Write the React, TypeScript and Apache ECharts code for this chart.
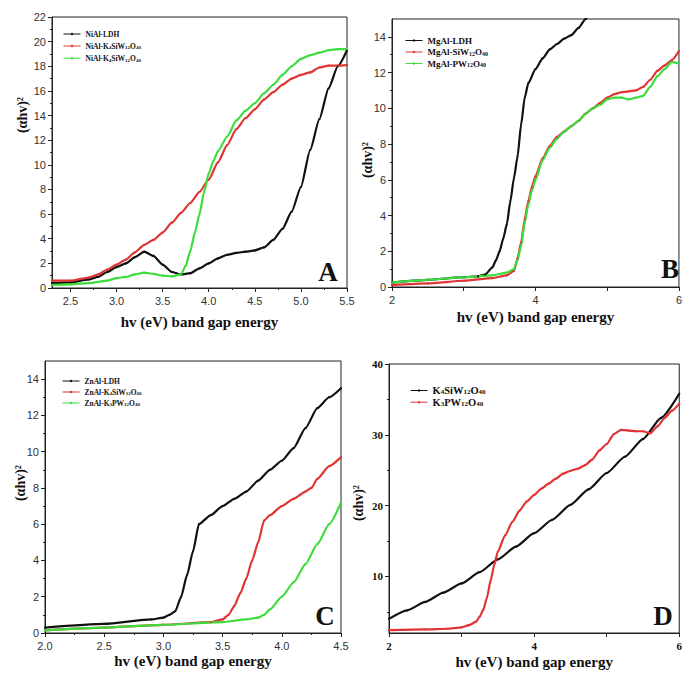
import React, { useEffect, useRef } from "react";
import * as echarts from "echarts";

// ---------- Panel A (NiAl) ----------
const niAlLdh = [[2.3,0.4],[2.5,0.45],[2.7,0.7],[2.8,0.9],[2.9,1.3],[3.0,1.7],[3.1,2.0],[3.2,2.5],[3.3,2.95],[3.4,2.6],[3.5,1.9],[3.6,1.3],[3.7,1.1],[3.8,1.2],[3.9,1.6],[4.0,2.0],[4.1,2.4],[4.2,2.7],[4.3,2.85],[4.4,2.95],[4.5,3.05],[4.6,3.3],[4.7,3.9],[4.8,4.8],[4.9,6.2],[5.0,8.2],[5.1,11.2],[5.2,13.7],[5.3,16.2],[5.4,18.0],[5.5,19.3]];
const niAlSiW = [[2.3,0.6],[2.5,0.6],[2.7,0.85],[2.8,1.1],[2.9,1.5],[3.0,1.9],[3.1,2.3],[3.2,2.9],[3.3,3.5],[3.4,3.9],[3.5,4.5],[3.6,5.3],[3.7,6.1],[3.8,6.9],[3.9,7.8],[4.0,8.8],[4.1,10.2],[4.2,11.6],[4.3,12.9],[4.4,13.8],[4.5,14.5],[4.6,15.3],[4.7,15.9],[4.8,16.5],[4.9,17.0],[5.0,17.3],[5.1,17.5],[5.2,17.9],[5.3,18.05],[5.4,18.05],[5.5,18.1]];
const niAlSiW2 = [[2.3,0.25],[2.5,0.3],[2.7,0.4],[2.9,0.6],[3.0,0.8],[3.1,0.9],[3.2,1.1],[3.3,1.25],[3.4,1.15],[3.5,1.0],[3.6,0.95],[3.7,1.1],[3.75,1.8],[3.8,3.0],[3.85,4.5],[3.9,6.0],[3.95,7.8],[4.0,9.3],[4.05,10.3],[4.1,11.1],[4.2,12.3],[4.3,13.6],[4.4,14.4],[4.5,15.0],[4.6,15.8],[4.7,16.5],[4.8,17.3],[4.9,18.0],[5.0,18.6],[5.1,18.9],[5.2,19.1],[5.3,19.3],[5.4,19.4],[5.5,19.4]];

// ---------- Panel B (MgAl) ----------
const mgAlLdh = [[2.0,0.25],[2.5,0.4],[3.0,0.55],[3.2,0.6],[3.3,0.7],[3.4,1.1],[3.45,1.5],[3.5,2.0],[3.55,2.7],[3.6,3.5],[3.65,4.8],[3.7,6.1],[3.75,7.3],[3.8,9.1],[3.85,10.6],[3.9,11.4],[4.0,12.2],[4.1,12.8],[4.2,13.3],[4.3,13.6],[4.4,13.9],[4.5,14.1],[4.6,14.5],[4.7,15.0],[4.8,15.8]];
const mgAlSiW = [[2.0,0.1],[2.5,0.2],[3.0,0.35],[3.4,0.5],[3.6,0.65],[3.7,0.9],[3.75,1.6],[3.8,2.5],[3.85,3.8],[3.9,4.8],[3.95,5.6],[4.0,6.2],[4.1,7.2],[4.2,7.9],[4.3,8.4],[4.4,8.7],[4.5,9.0],[4.6,9.3],[4.7,9.7],[4.8,10.0],[4.9,10.3],[5.0,10.6],[5.1,10.8],[5.2,10.9],[5.3,10.95],[5.4,11.0],[5.5,11.2],[5.6,11.6],[5.7,12.1],[5.8,12.4],[5.9,12.7],[6.0,13.2]];
const mgAlPW = [[2.0,0.25],[2.5,0.4],[3.0,0.55],[3.4,0.65],[3.6,0.8],[3.7,1.0],[3.75,1.5],[3.8,2.3],[3.85,3.6],[3.9,4.6],[3.95,5.4],[4.0,6.0],[4.1,7.1],[4.2,7.8],[4.3,8.3],[4.4,8.7],[4.5,9.0],[4.6,9.3],[4.7,9.7],[4.8,10.0],[4.9,10.2],[5.0,10.5],[5.1,10.6],[5.2,10.6],[5.3,10.5],[5.4,10.6],[5.5,10.7],[5.6,11.2],[5.7,11.8],[5.8,12.2],[5.9,12.6],[6.0,12.5]];

// ---------- Panel C (ZnAl) ----------
const znAlLdh = [[2.0,0.3],[2.5,0.5],[2.9,0.75],[3.0,0.85],[3.05,1.0],[3.1,1.2],[3.15,2.0],[3.2,3.2],[3.25,4.5],[3.3,6.0],[3.4,6.5],[3.5,7.0],[3.6,7.4],[3.7,7.8],[3.8,8.4],[3.9,9.0],[4.0,9.5],[4.1,10.2],[4.2,11.3],[4.3,12.4],[4.4,13.0],[4.5,13.5]];
const znAlSiW = [[2.0,0.15],[2.5,0.3],[3.0,0.45],[3.4,0.6],[3.5,0.75],[3.55,1.0],[3.6,1.5],[3.65,2.2],[3.7,3.0],[3.75,4.0],[3.8,5.0],[3.85,6.2],[3.9,6.5],[4.0,7.0],[4.1,7.4],[4.2,7.8],[4.25,8.0],[4.3,8.5],[4.4,9.2],[4.5,9.7]];
const znAlPW = [[2.0,0.15],[2.5,0.3],[3.0,0.45],[3.5,0.6],[3.7,0.75],[3.8,0.85],[3.85,1.0],[3.9,1.3],[4.0,2.0],[4.1,2.8],[4.2,3.8],[4.3,4.9],[4.4,6.0],[4.5,7.2]];

// ---------- Panel D (pure POMs) ----------
const kSiW = [[2.0,4.0],[2.25,5.2],[2.5,6.4],[2.75,7.7],[3.0,9.0],[3.25,10.6],[3.5,12.4],[3.75,14.2],[4.0,16.1],[4.25,18.0],[4.5,20.1],[4.75,22.3],[5.0,24.6],[5.25,26.9],[5.5,29.4],[5.75,32.4],[6.0,35.8]];
const kPW = [[2.0,2.4],[2.5,2.5],[2.8,2.6],[3.0,2.8],[3.1,3.1],[3.2,3.6],[3.25,4.3],[3.3,5.3],[3.35,7.0],[3.4,9.4],[3.45,11.6],[3.5,13.5],[3.6,15.8],[3.7,17.7],[3.8,19.3],[3.9,20.6],[4.0,21.5],[4.1,22.4],[4.2,23.1],[4.3,23.8],[4.4,24.5],[4.5,24.9],[4.6,25.2],[4.7,25.7],[4.8,26.5],[4.9,27.8],[5.0,28.7],[5.1,30.1],[5.2,30.7],[5.3,30.6],[5.4,30.5],[5.5,30.5],[5.6,30.2],[5.7,31.2],[5.8,32.4],[5.9,33.4],[6.0,34.4]];

// ---------- Tick values ----------
const aXMajor = [2.5, 3.0, 3.5, 4.0, 4.5, 5.0, 5.5];
const aXMinor = [2.75, 3.25, 3.75, 4.25, 4.75, 5.25];
const aYMajor = [0, 2, 4, 6, 8, 10, 12, 14, 16, 18, 20, 22];
const aYMinor = [1, 3, 5, 7, 9, 11, 13, 15, 17, 19, 21];
const bXMajor = [2, 3, 4, 5, 6];
const bXLabels = [2, 4, 6];
const bYMajor = [0, 2, 4, 6, 8, 10, 12, 14];
const bYMinor = [1, 3, 5, 7, 9, 11, 13];
const cXMajor = [2.0, 2.5, 3.0, 3.5, 4.0, 4.5];
const cXMinor = [2.25, 2.75, 3.25, 3.75, 4.25];
const cYMajor = [0, 2, 4, 6, 8, 10, 12, 14];
const cYMinor = [1, 3, 5, 7, 9, 11, 13];
const dXMajor = [2, 3, 4, 5, 6];
const dXLabels = [2, 4, 6];
const dYMajor = [10, 20, 30, 40];
const dYMinor = [5, 15, 25, 35];

const SANS = "Liberation Sans";
const SERIF = "Liberation Serif";
const BLACK = "#111111";
const RED = "#e03434";
const GREEN = "#3cdc3c";
const AXIS = "#222222";
const XTITLE = "hv (eV) band gap energy";
const YTITLE = "(αhv)²";

const sansLab = { fontFamily: SANS, fontSize: 11, color: "#333" };
const serifLab = { fontFamily: SERIF, fontSize: 11, fontWeight: "bold", color: "#111" };

function xPair(g: number, min: number, max: number, majors: number[], labels: number[], minors: number[], fmt: any, lab: any, nameGap: number) {
  return [
    {
      type: "value", gridIndex: g, min, max, position: "bottom",
      axisLine: { show: true, onZero: false, lineStyle: { color: AXIS, width: 1 } },
      axisTick: { show: true, inside: false, length: 4, customValues: majors, lineStyle: { color: AXIS } },
      axisLabel: { show: true, customValues: labels, formatter: fmt, margin: 7, ...lab },
      splitLine: { show: false },
      name: XTITLE, nameLocation: "middle", nameGap,
      nameTextStyle: { fontFamily: SERIF, fontWeight: "bold", fontSize: 15, color: "#111" },
    },
    {
      type: "value", gridIndex: g, min, max, position: "bottom",
      axisLine: { show: false, onZero: false },
      axisTick: { show: minors.length > 0, inside: false, length: 2, customValues: minors, lineStyle: { color: AXIS } },
      axisLabel: { show: false }, splitLine: { show: false },
    },
  ];
}

function yPair(g: number, min: number, max: number, majors: number[], minors: number[], lab: any) {
  return [
    {
      type: "value", gridIndex: g, min, max, position: "left",
      axisLine: { show: true, onZero: false, lineStyle: { color: AXIS, width: 1 } },
      axisTick: { show: true, inside: false, length: 4, customValues: majors, lineStyle: { color: AXIS } },
      axisLabel: { show: true, customValues: majors, margin: 6, ...lab },
      splitLine: { show: false },
    },
    {
      type: "value", gridIndex: g, min, max, position: "left",
      axisLine: { show: false, onZero: false },
      axisTick: { show: true, inside: false, length: 2, customValues: minors, lineStyle: { color: AXIS } },
      axisLabel: { show: false }, splitLine: { show: false },
    },
  ];
}

function line(name: string, data: number[][], color: string, g: number) {
  return {
    type: "line", name, data,
    xAxisIndex: 2 * g, yAxisIndex: 2 * g,
    showSymbol: true, symbol: "circle", symbolSize: 2.2,
    smooth: 0.2, smoothMonotone: "x",
    lineStyle: { color, width: 2.2 }, itemStyle: { color },
    clip: true,
  };
}

function legendFmt(name: string) {
  return name.replace(/\u200b/g, "").split(/(\d+)/).filter((p) => p.length > 0)
    .map((p) => (/^\d+$/.test(p) ? `{s|${p}}` : `{n|${p}}`)).join("");
}

function legend(names: string[], left: number, top: number, fs: number, lh: number, gap: number) {
  return {
    data: names, left, top, orient: "vertical", padding: 0,
    itemWidth: 17, itemHeight: 3, itemGap: gap,
    formatter: legendFmt, selectedMode: false,
    lineStyle: { width: 1 },
    textStyle: {
      color: "#111",
      rich: {
        n: { fontFamily: SERIF, fontWeight: "bold", fontSize: fs, lineHeight: lh, color: "#111" },
        s: { fontFamily: SERIF, fontWeight: "bold", fontSize: Math.round(fs * 0.62), lineHeight: lh, verticalAlign: "bottom", color: "#111" },
      },
    },
  };
}

function ytitle(x: number, y: number) {
  return {
    type: "text", x, y, rotation: Math.PI / 2,
    style: { text: YTITLE, fontFamily: SERIF, fontWeight: "bold", fontSize: 14, fill: "#111", align: "center", verticalAlign: "middle" },
  };
}
function letter(t: string, x: number, y: number) {
  return {
    type: "text", x, y,
    style: { text: t, fontFamily: SERIF, fontWeight: "bold", fontSize: 27, fill: "#111", align: "center", verticalAlign: "middle" },
  };
}

const f1 = (v: number) => v.toFixed(1);
const f0 = (v: number) => String(Math.round(v));

export default function App() {
  const ref = useRef<HTMLDivElement>(null);
  useEffect(() => {
    if (!ref.current) return;
    const chart = echarts.init(ref.current, null, { renderer: "svg" });
    const nA = ["NiAl-LDH", "NiAl-K4SiW12O40", "NiAl-K4SiW12O40\u200b"];
    const nB = ["MgAl-LDH", "MgAl-SiW12O40", "MgAl-PW12O40"];
    const nC = ["ZnAl-LDH", "ZnAl-K4SiW12O40", "ZnAl-K3PW12O40"];
    const nD = ["K4SiW12O40", "K3PW12O40"];
    const gridBase = { show: true, borderColor: AXIS, borderWidth: 1, backgroundColor: "transparent", containLabel: false };
    const option: any = {
      animation: false,
      backgroundColor: "#ffffff",
      textStyle: { fontFamily: SERIF },
      grid: [
        { ...gridBase, left: 52, top: 17, width: 295, height: 271 },
        { ...gridBase, left: 392, top: 19, width: 291, height: 268 },
        { ...gridBase, left: 45, top: 361, width: 296, height: 272 },
        { ...gridBase, left: 389, top: 364, width: 293, height: 269 },
      ],
      xAxis: [
        ...xPair(0, 2.3, 5.5, aXMajor, aXMajor, aXMinor, f1, sansLab, 26),
        ...xPair(1, 2, 6, bXMajor, bXLabels, [], f0, sansLab, 22),
        ...xPair(2, 2, 4.5, cXMajor, cXMajor, cXMinor, f1, sansLab, 20),
        ...xPair(3, 2, 6, dXMajor, dXLabels, [], f0, serifLab, 21),
      ],
      yAxis: [
        ...yPair(0, 0, 22, aYMajor, aYMinor, sansLab),
        ...yPair(1, 0, 15, bYMajor, bYMinor, sansLab),
        ...yPair(2, 0, 15, cYMajor, cYMinor, sansLab),
        ...yPair(3, 2, 40, dYMajor, dYMinor, serifLab),
      ],
      legend: [
        legend(nA, 63, 30, 7.5, 8.5, 4),
        legend(nB, 405, 36, 9, 9, 2.5),
        legend(nC, 62, 377, 7.5, 8, 3),
        legend(nD, 410, 385, 10.5, 10, 0.7),
      ],
      series: [
        line(nA[0], niAlLdh, BLACK, 0),
        line(nA[1], niAlSiW, RED, 0),
        line(nA[2], niAlSiW2, GREEN, 0),
        line(nB[0], mgAlLdh, BLACK, 1),
        line(nB[1], mgAlSiW, RED, 1),
        line(nB[2], mgAlPW, GREEN, 1),
        line(nC[0], znAlLdh, BLACK, 2),
        line(nC[1], znAlSiW, RED, 2),
        line(nC[2], znAlPW, GREEN, 2),
        line(nD[0], kSiW, BLACK, 3),
        line(nD[1], kPW, RED, 3),
      ],
      graphic: [
        ytitle(22, 115),
        ytitle(367, 160),
        ytitle(20, 483),
        ytitle(358, 503),
        letter("A", 328, 272),
        letter("B", 670, 269),
        letter("C", 325, 616),
        letter("D", 663, 616),
      ],
    };
    chart.setOption(option);
    return () => chart.dispose();
  }, []);
  return <div ref={ref} style={{ position: "absolute", left: 0, top: 0, width: 685, height: 678 }} />;
}
